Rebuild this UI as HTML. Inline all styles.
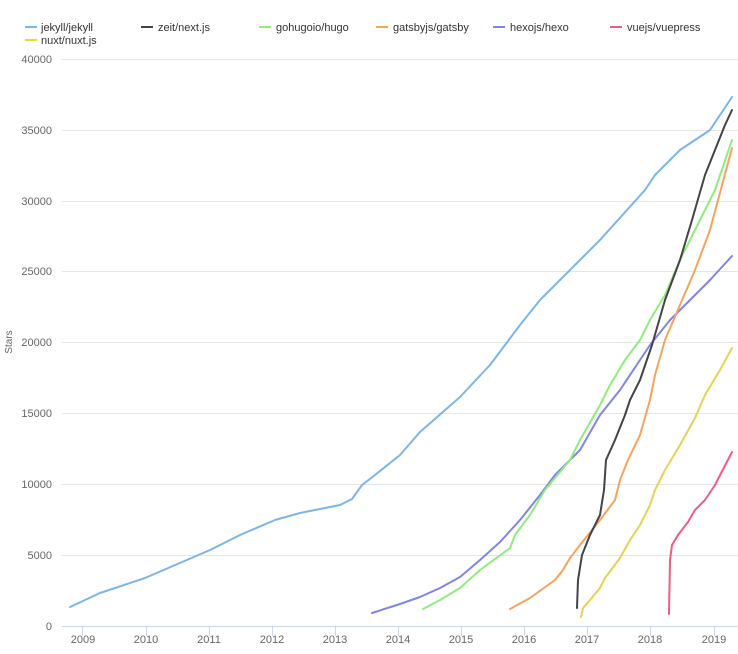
<!DOCTYPE html>
<html><head><meta charset="utf-8"><style>
body{margin:0;background:#fff;}
svg{display:block;font-family:"Liberation Sans",sans-serif;}
</style></head><body>
<svg width="738" height="654" viewBox="0 0 738 654">
<g font-size="11" fill="#333">
<line x1="25" y1="27" x2="37" y2="27" stroke="#7cb5ec" stroke-width="2"/><text x="41" y="31">jekyll/jekyll</text>
<line x1="141" y1="27" x2="153" y2="27" stroke="#434348" stroke-width="2"/><text x="158" y="31">zeit/next.js</text>
<line x1="259" y1="27" x2="271" y2="27" stroke="#90ed7d" stroke-width="2"/><text x="276" y="31">gohugoio/hugo</text>
<line x1="376" y1="27" x2="388" y2="27" stroke="#f7a35c" stroke-width="2"/><text x="393" y="31">gatsbyjs/gatsby</text>
<line x1="493" y1="27" x2="505" y2="27" stroke="#8085e9" stroke-width="2"/><text x="510" y="31">hexojs/hexo</text>
<line x1="610" y1="27" x2="622" y2="27" stroke="#f15c80" stroke-width="2"/><text x="627" y="31">vuejs/vuepress</text>
<line x1="25" y1="40" x2="37" y2="40" stroke="#e4d354" stroke-width="2"/><text x="41" y="44">nuxt/nuxt.js</text>
</g>
<g stroke="#e6e6e6" stroke-width="1">
<line x1="62" x2="738" y1="59.5" y2="59.5"/><line x1="62" x2="738" y1="130.5" y2="130.5"/><line x1="62" x2="738" y1="201.5" y2="201.5"/><line x1="62" x2="738" y1="271.5" y2="271.5"/><line x1="62" x2="738" y1="342.5" y2="342.5"/><line x1="62" x2="738" y1="413.5" y2="413.5"/><line x1="62" x2="738" y1="484.5" y2="484.5"/><line x1="62" x2="738" y1="555.5" y2="555.5"/>
</g>
<line x1="62" x2="738" y1="626.5" y2="626.5" stroke="#ccd6eb"/>
<g stroke="#ccd6eb"><line x1="82.5" x2="82.5" y1="626" y2="636"/><line x1="146.5" x2="146.5" y1="626" y2="636"/><line x1="209.5" x2="209.5" y1="626" y2="636"/><line x1="272.5" x2="272.5" y1="626" y2="636"/><line x1="335.5" x2="335.5" y1="626" y2="636"/><line x1="398.5" x2="398.5" y1="626" y2="636"/><line x1="461.5" x2="461.5" y1="626" y2="636"/><line x1="524.5" x2="524.5" y1="626" y2="636"/><line x1="587.5" x2="587.5" y1="626" y2="636"/><line x1="650.5" x2="650.5" y1="626" y2="636"/><line x1="714.5" x2="714.5" y1="626" y2="636"/></g>
<g font-size="11" fill="#666" text-anchor="end">
<text x="52" y="63">40000</text><text x="52" y="134">35000</text><text x="52" y="205">30000</text><text x="52" y="275">25000</text><text x="52" y="346">20000</text><text x="52" y="417">15000</text><text x="52" y="488">10000</text><text x="52" y="559">5000</text><text x="52" y="630">0</text>
</g>
<g font-size="11" fill="#666" text-anchor="middle">
<text x="83" y="643">2009</text><text x="146" y="643">2010</text><text x="209" y="643">2011</text><text x="272" y="643">2012</text><text x="335" y="643">2013</text><text x="398" y="643">2014</text><text x="461" y="643">2015</text><text x="524" y="643">2016</text><text x="587" y="643">2017</text><text x="650" y="643">2018</text><text x="714" y="643">2019</text>
</g>
<text transform="translate(12,342) rotate(-90)" font-size="10" fill="#666" text-anchor="middle">Stars</text>
<g fill="none" stroke-width="2" stroke-linejoin="round" stroke-linecap="round">
<polyline stroke="#7cb5ec" points="70,607 100,593 145,578 210,550 240,535 275,520 300,513 320,509 340,505 352,499 362,485 375,475 400,455 420,432 460,397 490,365 520,325 540,300 560,280 600,240 645,190 655,175 680,150 710,130 732,97"/>
<polyline stroke="#8085e9" points="372,613 400,604 420,597 440,588 460,577 480,560 500,542 520,520 540,495 555,475 580,450 600,415 620,390 640,360 650,345 670,320 690,300 710,280 732,256"/>
<polyline stroke="#90ed7d" points="423,609 440,600 460,588 480,570 510,548 515,535 530,515 545,490 570,460 580,440 600,405 610,385 625,360 640,340 650,320 665,295 680,260 695,230 715,190 732,140"/>
<polyline stroke="#f7a35c" points="510,609 530,598 555,580 563,570 570,558 580,545 600,520 615,500 620,480 628,460 640,435 650,400 655,375 665,340 680,305 695,270 710,230 732,148"/>
<polyline stroke="#434348" points="577,608 578,580 582,555 590,535 600,515 604,490 606,460 615,440 625,415 630,400 640,380 652,345 665,300 680,260 692,220 705,175 715,150 725,125 732,110"/>
<polyline stroke="#e4d354" points="581,617 583,608 590,600 600,588 605,578 620,558 630,540 640,525 650,505 655,490 665,470 680,445 695,418 705,395 720,370 732,348"/>
<polyline stroke="#f15c80" points="669,614 670,560 672,545 678,535 688,522 695,510 705,500 715,485 732,452"/>
</g>
</svg>
</body></html>
